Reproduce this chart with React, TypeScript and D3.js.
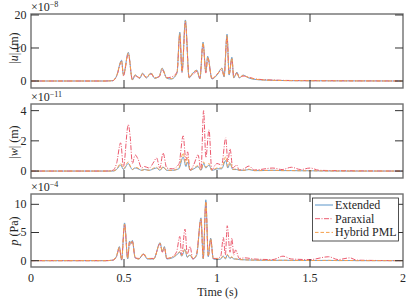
import React from "react";
import * as d3 from "d3";

// ---------- data ----------
const xTicks = [0, 0.5, 1, 1.5, 2];
const seriesNames = ["Extended", "Paraxial", "Hybrid PML"];

// |u| panel (x1e-8 m)
const tU = [0, 0.40, 0.44, 0.46, 0.487, 0.497, 0.523, 0.545, 0.56, 0.585, 0.60, 0.62, 0.645, 0.665, 0.69, 0.705, 0.73, 0.755, 0.785, 0.80, 0.812, 0.83, 0.85, 0.87, 0.892, 0.908, 0.925, 0.94, 0.95, 0.973, 1.0, 1.027, 1.038, 1.054, 1.065, 1.08, 1.09, 1.107, 1.12, 1.14, 1.167, 1.2, 1.25, 1.3, 1.4, 1.6, 2.0];
const uExt = [0, 0, 0.1, 1.5, 6.3, 1.8, 8.7, 0.3, 1.8, 0.8, 2.4, 0.9, 2.4, 0.8, 1.5, 3.9, 0.8, 0.6, 2.4, 14.8, 2.7, 18.5, 0.9, 2.4, 3.3, 0.6, 11.8, 2.7, 7.5, 0.6, 1.8, 3.9, 1.2, 14.2, 1.8, 7.2, 0.9, 2.7, 0.9, 1.8, 1.0, 0.5, 0.3, 0.2, 0.1, 0.05, 0];
const uPar = [0, 0, 0.1, 1.4, 5.9, 1.6, 8.2, 0.5, 1.5, 1.0, 2.0, 1.2, 2.1, 1.0, 1.3, 3.4, 1.0, 1.2, 2.7, 13.9, 2.5, 17.6, 1.2, 2.0, 2.9, 0.9, 11.2, 2.4, 7.0, 0.8, 2.1, 3.3, 1.6, 13.5, 2.1, 6.6, 1.2, 2.3, 1.1, 1.5, 1.2, 0.7, 0.4, 0.3, 0.15, 0.08, 0];
const uHyb = [0, 0, 0.1, 1.6, 6.1, 1.9, 8.5, 0.4, 1.9, 0.9, 2.3, 1.0, 2.5, 0.9, 1.6, 3.8, 0.9, 0.7, 2.5, 14.5, 2.9, 18.2, 1.0, 2.5, 3.2, 0.7, 11.6, 2.9, 7.3, 0.7, 1.9, 3.8, 1.3, 13.9, 1.9, 7.0, 1.0, 2.6, 1.0, 1.7, 1.1, 0.6, 0.3, 0.2, 0.1, 0.05, 0];
const uTicks = [0, 10, 20];

// |w| panel (x1e-11 m)
const tW = [0, 0.40, 0.44, 0.46, 0.482, 0.497, 0.523, 0.533, 0.545, 0.56, 0.575, 0.595, 0.61, 0.635, 0.66, 0.675, 0.693, 0.71, 0.73, 0.76, 0.795, 0.818, 0.833, 0.842, 0.855, 0.876, 0.898, 0.914, 0.928, 0.94, 0.957, 0.972, 0.99, 1.0, 1.025, 1.047, 1.058, 1.07, 1.085, 1.105, 1.12, 1.145, 1.172, 1.2, 1.23, 1.3, 1.35, 1.4, 1.45, 1.5, 1.55, 1.7, 2.0];
const wExt = [0, 0, 0, 0.1, 0.4, 0.1, 0.5, 0.3, 0.1, 0.2, 0.15, 0.05, 0.1, 0.05, 0.15, 0.2, 0.05, 0.25, 0.05, 0.05, 0.15, 0.93, 0.3, 0.6, 0.05, 0.15, 0.3, 0.05, 0.5, 0.2, 0.4, 0.05, 0.1, 0.15, 0.15, 0.7, 0.2, 0.5, 0.1, 0.1, 0.05, 0.05, 0.1, 0.03, 0.03, 0.05, 0.03, 0.03, 0.02, 0.02, 0.01, 0, 0];
const wPar = [0, 0, 0.05, 0.5, 1.87, 0.3, 3.07, 2.3, 0.5, 1.07, 0.8, 0.2, 0.3, 0.2, 0.6, 0.87, 0.2, 1.2, 0.2, 0.15, 0.45, 2.33, 0.7, 1.27, 0.07, 0.45, 1.07, 0.07, 4.0, 0.9, 2.73, 0.07, 0.4, 0.5, 0.4, 2.2, 0.6, 1.47, 0.2, 0.4, 0.07, 0.15, 0.33, 0.07, 0.1, 0.2, 0.1, 0.25, 0.1, 0.2, 0.05, 0.02, 0];
const wHyb = [0, 0, 0, 0.12, 0.5, 0.15, 0.6, 0.35, 0.1, 0.25, 0.2, 0.05, 0.1, 0.05, 0.2, 0.25, 0.05, 0.3, 0.05, 0.05, 0.2, 1.2, 0.4, 0.9, 0.05, 0.2, 0.35, 0.05, 0.6, 0.25, 0.5, 0.05, 0.15, 0.2, 0.2, 0.95, 0.25, 0.6, 0.1, 0.15, 0.05, 0.05, 0.12, 0.03, 0.03, 0.05, 0.03, 0.03, 0.02, 0.02, 0.01, 0, 0];
const wTicks = [0, 2, 4];

// p panel (x1e-4 Pa)
const tP = [0, 0.40, 0.44, 0.46, 0.475, 0.487, 0.503, 0.52, 0.53, 0.537, 0.545, 0.56, 0.58, 0.605, 0.625, 0.66, 0.694, 0.706, 0.717, 0.73, 0.76, 0.783, 0.80, 0.81, 0.828, 0.84, 0.855, 0.87, 0.89, 0.914, 0.926, 0.94, 0.953, 0.966, 0.98, 1.0, 1.02, 1.034, 1.045, 1.055, 1.07, 1.08, 1.09, 1.1, 1.12, 1.15, 1.2, 1.3, 1.355, 1.4, 1.5, 1.6, 1.65, 1.715, 1.75, 2.0];
const pExt = [0, 0, 0.1, 0.8, 2.5, 0.1, 6.7, 0.3, 3.5, 3.0, 3.6, 0.5, 0.3, 1.2, 0.3, 0.3, 3.2, 1.6, 2.5, 0.3, 0.5, 1.0, 1.5, 0.8, 2.0, 0.6, 1.0, 0.3, 0.9, 7.6, 0.3, 10.8, 0.7, 4.0, 0.3, 0.2, 0.3, 0.8, 0.3, 1.0, 0.4, 0.6, 0.3, 0.3, 0.2, 0.15, 0.1, 0.05, 0.08, 0.05, 0.03, 0.05, 0.02, 0.03, 0.01, 0];
const pPar = [0, 0, 0.1, 0.7, 2.3, 0.2, 6.4, 0.5, 3.3, 2.8, 3.4, 0.5, 0.4, 1.1, 0.4, 0.4, 3.0, 1.5, 2.3, 0.4, 0.7, 1.6, 4.3, 1.0, 5.6, 1.2, 2.5, 0.3, 1.2, 7.3, 0.5, 10.3, 0.9, 3.7, 0.4, 0.4, 0.8, 4.1, 1.0, 6.2, 1.5, 4.0, 1.0, 1.9, 0.4, 0.5, 0.3, 0.2, 0.8, 0.3, 0.2, 0.7, 0.2, 0.5, 0.1, 0];
const pHyb = [0, 0, 0.1, 0.9, 2.4, 0.2, 6.5, 0.4, 3.4, 3.1, 3.5, 0.6, 0.3, 1.3, 0.4, 0.3, 3.1, 1.7, 2.4, 0.4, 0.6, 1.1, 1.6, 0.9, 2.1, 0.7, 1.1, 0.4, 1.0, 7.4, 0.4, 10.5, 0.8, 3.9, 0.4, 0.3, 0.4, 0.9, 0.4, 1.1, 0.5, 0.7, 0.3, 0.3, 0.2, 0.15, 0.1, 0.05, 0.08, 0.05, 0.03, 0.05, 0.02, 0.03, 0.01, 0];
const pTicks = [0, 5, 10];

// ---------- styles ----------
const colors = ["#5b95c9", "#ec5a6e", "#f5a04c"];
const dashes = ["none", "5,1.5,1,1.5", "3.5,2"];
const FONT = "'Liberation Serif', 'Times New Roman', serif";

const W = 407, H = 299;
const X0 = 31, X1 = 403;

type Panel = {
  top: number; bottom: number; domain: [number, number];
  t: number[]; series: number[][]; ticks: number[];
  exp: string; label: React.ReactNode; labelY: number; showX: boolean;
};

const panels: Panel[] = [
  { top: 14, bottom: 88, domain: [-2.12, 20.3], t: tU, series: [uExt, uPar, uHyb], ticks: uTicks, exp: "−8",
    label: (<><tspan>|</tspan><tspan fontStyle="italic">u</tspan><tspan>| (m)</tspan></>), labelY: 48, showX: false },
  { top: 104, bottom: 178, domain: [-0.46, 4.44], t: tW, series: [wExt, wPar, wHyb], ticks: wTicks, exp: "−11",
    label: (<><tspan>|</tspan><tspan fontStyle="italic">w</tspan><tspan>| (m)</tspan></>), labelY: 142, showX: false },
  { top: 194, bottom: 267, domain: [-1.12, 11.83], t: tP, series: [pExt, pPar, pHyb], ticks: pTicks, exp: "−4",
    label: (<><tspan fontStyle="italic">p</tspan><tspan> (Pa)</tspan></>), labelY: 231, showX: true },
];

export default function App() {
  const x = d3.scaleLinear().domain([0, 2]).range([X0, X1]);
  return (
    <svg width={W} height={H} style={{ position: "absolute", left: 0, top: 0, background: "#fff" }}
      fontFamily={FONT}>
      <rect x={0} y={0} width={W} height={H} fill="#fff" />
      {panels.map((p, pi) => {
        const y = d3.scaleLinear().domain(p.domain).range([p.bottom, p.top]);
        const line = d3.line<number>()
          .x((_, i) => x(p.t[i]))
          .y((v) => y(v))
          .curve(d3.curveMonotoneX);
        const clipId = `clip${pi}`;
        return (
          <g key={pi}>
            <defs>
              <clipPath id={clipId}>
                <rect x={X0} y={p.top} width={X1 - X0} height={p.bottom - p.top} />
              </clipPath>
            </defs>
            <g clipPath={`url(#${clipId})`}>
              {p.series.map((s, si) => (
                <path key={si} d={line(s) || ""} fill="none" stroke={colors[si]}
                  strokeWidth={si === 0 ? 0.9 : 1} strokeDasharray={dashes[si]} />
              ))}
            </g>
            {/* frame */}
            <rect x={X0} y={p.top} width={X1 - X0} height={p.bottom - p.top} fill="none" stroke="#707070" strokeWidth={1.4} />
            {/* x ticks */}
            {xTicks.slice(1, -1).map((t) => (
              <g key={t}>
                <line x1={x(t)} x2={x(t)} y1={p.bottom} y2={p.bottom - 8} stroke="#333" strokeWidth={1} />
                <line x1={x(t)} x2={x(t)} y1={p.top} y2={p.top + 8} stroke="#333" strokeWidth={1} />
              </g>
            ))}
            {/* y ticks */}
            {p.ticks.map((t) => (
              <g key={t}>
                <line x1={X0} x2={X0 + 8} y1={y(t)} y2={y(t)} stroke="#333" strokeWidth={1} />
                <line x1={X1} x2={X1 - 8} y1={y(t)} y2={y(t)} stroke="#333" strokeWidth={1} />
                <text x={26.5} y={y(t)} dy="0.33em" textAnchor="end" fontSize={12} fill="#262626">{t}</text>
              </g>
            ))}
            {/* exponent */}
            <text x={31} y={p.top - 3.5} fontSize={12} fill="#262626">
              ×10<tspan dy={-4} fontSize={8}>{p.exp}</tspan>
            </text>
            {/* y label */}
            <text transform={`translate(18,${p.labelY}) rotate(-90)`} textAnchor="middle" fontSize={12} fill="#262626">
              {p.label}
            </text>
            {p.showX && xTicks.map((t) => (
              <text key={t} x={x(t)} y={282} textAnchor="middle" fontSize={12} fill="#262626">{t}</text>
            ))}
          </g>
        );
      })}
      <text x={217.5} y={296} textAnchor="middle" fontSize={12} fill="#262626">Time (s)</text>
      {/* legend */}
      <g>
        <rect x={312.5} y={198} width={86} height={43} fill="#fff" stroke="#262626" strokeWidth={0.8} />
        {seriesNames.map((n, i) => {
          const ly = 205 + i * 13.7;
          return (
            <g key={n}>
              <line x1={315} x2={333} y1={ly} y2={ly} stroke={colors[i]} strokeWidth={1} strokeDasharray={dashes[i]} />
              <text x={335} y={ly + 4} fontSize={12} fill="#262626">{n}</text>
            </g>
          );
        })}
      </g>
    </svg>
  );
}
